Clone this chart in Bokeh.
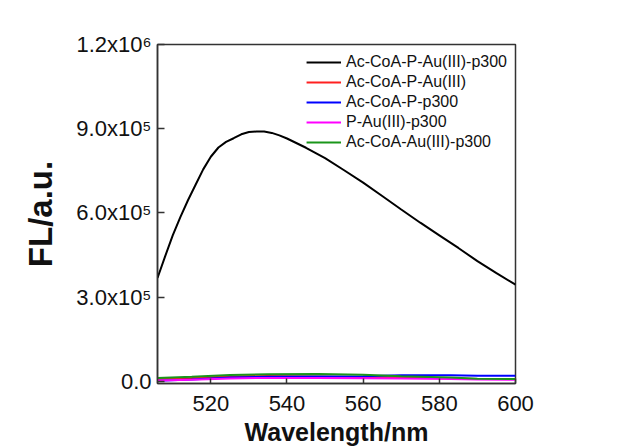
from bokeh.plotting import figure
from bokeh.models import Range1d, FixedTicker, Legend, LegendItem
from bokeh.embed import file_html
from bokeh.resources import INLINE

wl_black = [506, 508, 510, 512, 514, 516, 518, 520, 522, 524, 526, 528, 530, 532, 534,
            536, 538, 540, 545, 550, 555, 560, 565, 570, 575, 580, 585, 590, 595, 600]
fl_black = [3.68e5, 4.45e5, 5.2e5, 5.85e5, 6.45e5, 7.0e5, 7.55e5, 8.0e5, 8.33e5, 8.53e5,
            8.66e5, 8.8e5, 8.88e5, 8.9e5, 8.9e5, 8.85e5, 8.76e5, 8.65e5, 8.32e5, 7.95e5,
            7.52e5, 7.08e5, 6.6e5, 6.12e5, 5.65e5, 5.2e5, 4.75e5, 4.28e5, 3.85e5, 3.44e5]

wl_low = [506, 515, 525, 535, 548, 560, 570, 583, 590, 600]
fl_red = [0.8e4, 1.2e4, 1.7e4, 1.9e4, 1.7e4, 1.5e4, 1.3e4, 1.1e4, 0.8e4, 0.8e4]
fl_blue = [0.2e4, 0.6e4, 1.3e4, 1.6e4, 1.7e4, 1.8e4, 2.1e4, 2.1e4, 2.0e4, 2.0e4]
fl_magenta = [0.3e4, 0.5e4, 1.0e4, 1.2e4, 1.2e4, 1.1e4, 1.0e4, 0.8e4, 0.6e4, 0.5e4]
fl_green = [1.2e4, 1.6e4, 2.2e4, 2.5e4, 2.6e4, 2.3e4, 1.8e4, 1.3e4, 0.9e4, 0.8e4]

names = ["Ac-CoA-P-Au(III)-p300", "Ac-CoA-P-Au(III)", "Ac-CoA-P-p300",
         "P-Au(III)-p300", "Ac-CoA-Au(III)-p300"]
colors = ["#000000", "#ff2020", "#0000ff", "#ff00ff", "#1a961a"]

x_ticks = [520, 540, 560, 580, 600]
y_ticks = [0, 300000, 600000, 900000, 1200000]
y_tick_labels = ["0.0", "3.0x10⁵", "6.0x10⁵", "9.0x10⁵", "1.2x10⁶"]

p = figure(width=626, height=448, output_backend="svg", toolbar_location=None,
           x_range=Range1d(506, 600), y_range=Range1d(-8000, 1.2e6),
           min_border_left=157, min_border_right=111, min_border_top=44, min_border_bottom=64)
p.background_fill_color = "white"
p.border_fill_color = "white"
p.outline_line_color = "#333333"
p.outline_line_width = 1.5
p.xgrid.visible = False
p.ygrid.visible = False

series = [(wl_black, fl_black), (wl_low, fl_red), (wl_low, fl_blue),
          (wl_low, fl_magenta), (wl_low, fl_green)]
renderers = []
for (xs, ys), c in zip(series, colors):
    r = p.line(xs, ys, line_color=c, line_width=2)
    renderers.append(r)

font = "Liberation Sans"
for ax in (p.xaxis[0], p.yaxis[0]):
    ax.axis_line_color = "#333333"
    ax.axis_line_width = 1.5
    ax.major_tick_line_color = "#333333"
    ax.major_tick_line_width = 1.5
    ax.minor_tick_line_color = None
    ax.major_tick_out = 0
    ax.major_label_text_font = font
    ax.major_label_text_font_size = "22px"
    ax.major_label_text_color = "#111111"
    ax.axis_label_text_font = font
    ax.axis_label_text_font_style = "bold"
    ax.axis_label_text_color = "#111111"

p.xaxis.ticker = FixedTicker(ticks=x_ticks)
p.xaxis.major_tick_in = 5
p.xaxis.major_label_standoff = 12
p.xaxis.axis_label = "Wavelength/nm"
p.xaxis.axis_label_text_font_size = "25px"
p.xaxis.axis_label_standoff = 4

p.yaxis.ticker = FixedTicker(ticks=y_ticks)
p.yaxis.major_label_overrides = {t: l for t, l in zip(y_ticks, y_tick_labels)}
p.yaxis.major_tick_in = 7
p.yaxis.major_label_standoff = 6
p.yaxis.axis_label = "FL/a.u."
p.yaxis.axis_label_text_font_size = "33px"
p.yaxis.axis_label_standoff = 14

legend = Legend(items=[LegendItem(label=n, renderers=[r]) for n, r in zip(names, renderers)],
                location="top_right")
legend.background_fill_alpha = 0
legend.border_line_alpha = 0
legend.label_text_font = font
legend.label_text_font_size = "16px"
legend.label_text_color = "#111111"
legend.glyph_width = 35
legend.glyph_height = 20
legend.label_height = 20
legend.label_standoff = 5
legend.spacing = 0
legend.padding = 4
legend.margin = 4
p.add_layout(legend)

open("out.html", "w").write(file_html(p, INLINE))
